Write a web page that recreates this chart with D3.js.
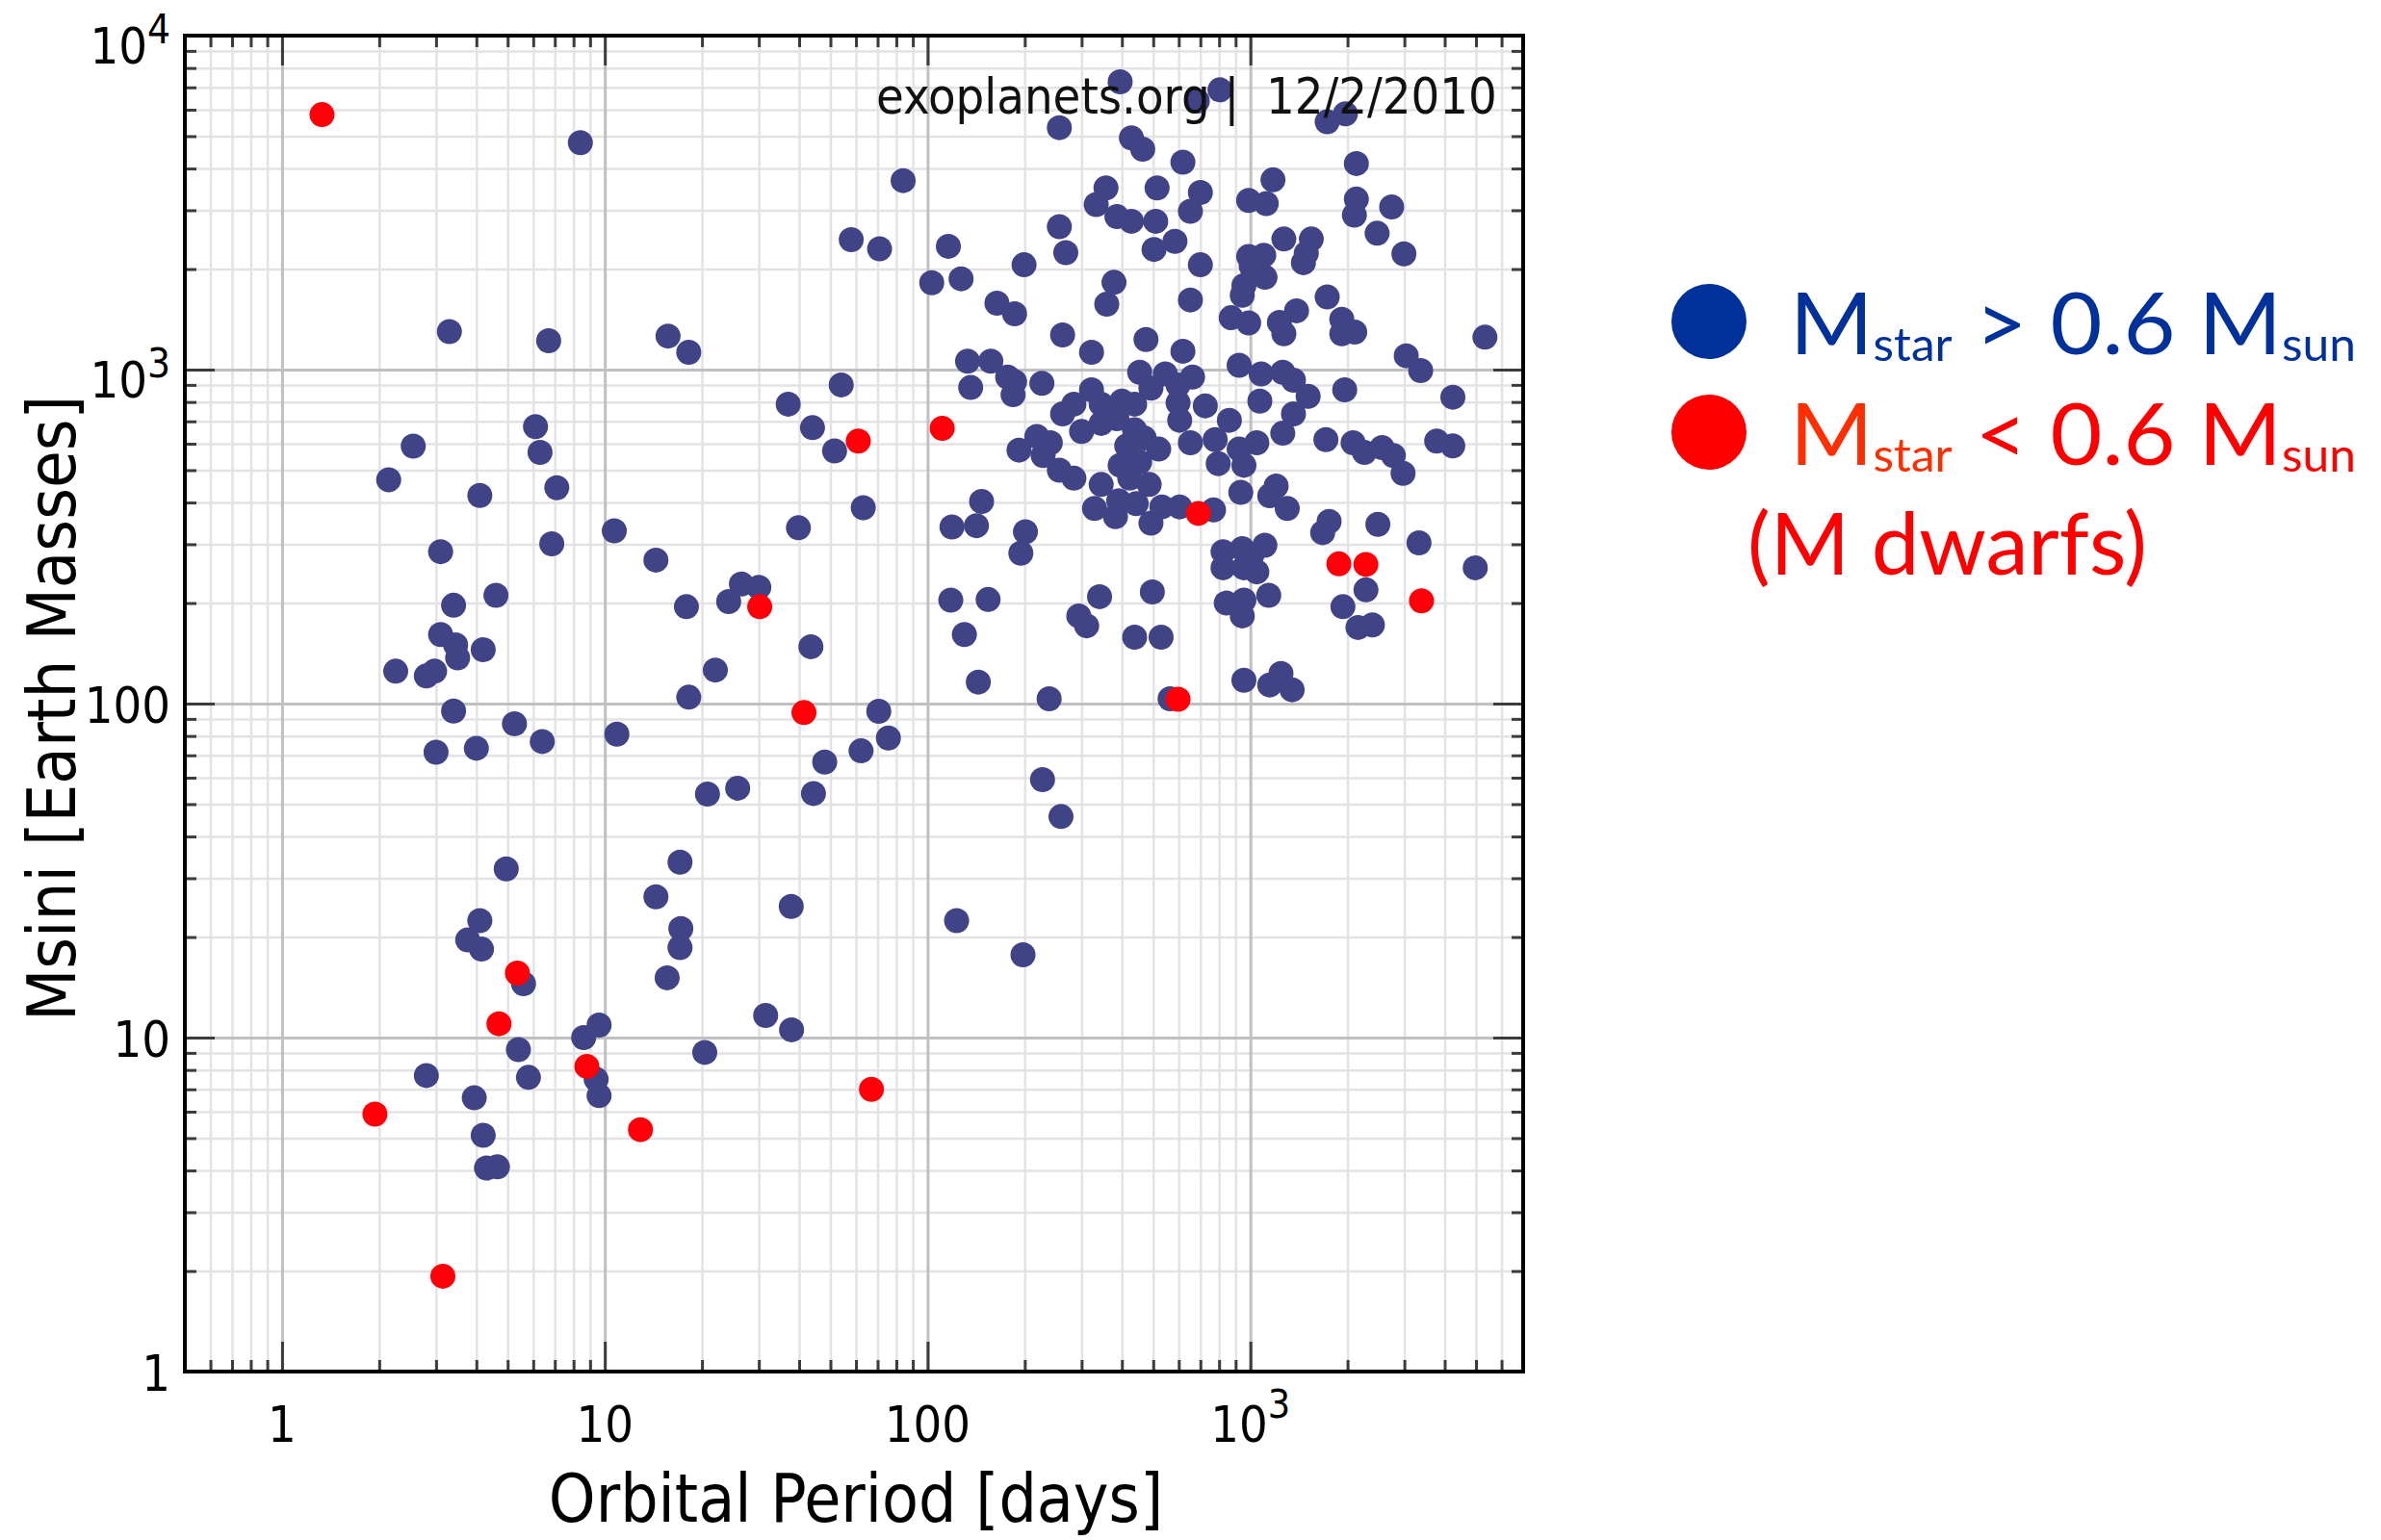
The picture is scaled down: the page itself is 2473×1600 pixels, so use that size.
<!DOCTYPE html>
<html>
<head>
<meta charset="utf-8">
<script src="https://cdn.jsdelivr.net/npm/d3@7"></script>
<style>
  html, body { margin: 0; padding: 0; background: #fff; }
  svg { display: block; }
</style>
</head>
<body>
<svg id="chart" width="2473" height="1600"></svg>
<script>
// Orbital period [days] and minimum mass [Earth masses] of planets
// orbiting stars heavier than 0.6 solar masses.
const heavyHostPeriod = [
  8.4, 3.3, 6.7, 6.1, 6.3, 2.55, 2.14, 7.1, 4.1, 10.7, 6.85, 3.1, 4.6, 3.4, 3.1, 3.45, 3.5, 4.2, 2.25, 2.8,
  2.97, 3.4, 5.25, 6.4, 10.9, 3.0, 4.0, 4.95, 4.1, 3.76, 4.15, 5.6, 5.4, 5.8, 8.6, 9.6, 9.4, 9.6, 2.8, 3.94,
  4.2, 4.3, 4.65,
  14.4, 17.9, 24.2, 26.5, 30.0, 39.8, 63.2, 43.5, 22.0, 18.2, 70.6, 75.6, 62.2, 48.0, 44.3, 20.8, 25.8, 17.1, 14.4, 37.8,
  119, 141.7, 147, 201, 194.5, 118, 154, 130, 143.6, 238, 227, 259, 123, 17.2, 17.1, 15.6, 31.5, 37.9, 20.4, 197.5,
  256, 84, 58, 71, 116, 256, 268, 199, 103, 127, 164, 186, 262, 15.7, 18.2, 133, 157, 136, 177, 186,
  184, 226, 262, 54, 37, 44, 51.5, 192, 218, 240, 228, 256, 284,
  395, 805, 685, 1730, 1970, 428, 464, 618, 2130, 357, 514, 700, 1175, 333, 386, 428, 509, 652, 988, 1120,
  2130, 2100, 2740, 2470, 2990, 503, 584, 1270, 1545, 1490, 1460, 700, 988, 1100, 1006, 1110, 955, 944, 378, 359,
  652, 1730, 1920, 2105, 1920, 5330, 872, 988, 1230, 1390, 1270, 475, 322, 618, 3040, 3370, 923, 1080, 1260, 1360,
  1510, 1360, 1260, 1070, 1960, 4240, 454, 545, 597, 662, 492, 322, 284, 300, 345, 400, 438, 345, 386, 438,
  469, 604, 725, 861, 597, 414, 520, 652, 778, 923, 1047, 795, 955, 395, 454, 1714, 2081, 2256, 2559, 2773,
  2972, 3778, 4236,
  345, 423, 486, 329, 382, 443, 492, 532, 391, 604, 769, 934, 1202, 1148, 1301, 1754, 1675, 2483, 3330, 4974,
  2281, 1935, 2155, 2388, 823, 944, 1109, 823, 955, 1047, 1012, 842, 955, 944, 1140, 341, 497, 294, 311, 438,
  529, 955, 1148, 1244, 1347, 564
];
const heavyHostMass = [
  4780, 1300, 1220, 675, 565, 590, 468, 443, 420, 329, 301, 285, 211, 197, 161, 150, 137, 145, 125, 121,
  125, 95, 87, 77, 81, 71.5, 73.5, 32, 22.4, 19.6, 18.4, 14.5, 9.2, 7.6, 10, 10.9, 7.5, 6.7, 7.7, 6.6,
  5.1, 4.07, 4.1,
  269, 195, 202, 228, 223, 336, 386, 148, 126, 104.5, 94.8, 78.9, 72.2, 66.8, 53.8, 53.6, 55.8, 33.5, 26.4, 24.7,
  338, 341, 403, 327, 282, 204, 205, 161, 116, 103.4, 59.2, 45.9, 22.4, 21.2, 18.6, 15.1, 11.65, 10.55, 9.03, 17.7,
  5300, 3680, 2450, 2300, 2340, 2680, 2240, 2060, 1820, 1870, 1580, 1470, 1270, 1260, 1127, 1060, 1060, 884, 950, 920,
  841, 910, 737, 900, 788, 670, 571, 574, 631, 604, 553, 500, 473,
  7270, 6880, 6370, 5520, 5830, 4940, 4570, 4180, 4140, 3500, 3500, 3390, 3700, 3120, 2870, 2780, 2780, 2980, 3210, 3140,
  3240, 2900, 3070, 2560, 2220, 2290, 2420, 2460, 2460, 2230, 2090, 2060, 2180, 2200, 2040, 1890, 1785, 1670, 1825, 1570,
  1616, 1650, 1415, 1295, 1280, 1250, 1430, 1380, 1384, 1500, 1280, 1230, 1127, 1135, 1100, 993, 1030, 971, 982, 930,
  832, 737, 645, 805, 870, 827, 982, 971, 899, 950, 880, 870, 788, 653, 788, 805, 788, 690, 713, 660,
  624, 705, 779, 705, 796, 591, 578, 604, 617, 578, 604, 523, 517, 517, 529, 617, 604, 565, 584, 553,
  489, 611, 591,
  453, 473, 453, 384, 363, 397, 347, 388, 405, 388, 380, 429, 448, 419, 384, 351, 325, 344, 303, 255,
  219, 195, 169, 172, 285, 291, 298, 255, 255, 248, 279, 200, 204, 183, 211, 209, 216, 183, 171, 158,
  158, 117.5, 113.7, 123, 110, 103.4
];

// Planets orbiting M dwarfs (stars below 0.6 solar masses).
const mDwarfPeriod = [1.33, 5.36, 4.7, 8.8, 12.9, 1.94, 3.15, 61, 111, 30.2, 41.4, 67, 690, 1880, 2280, 3390, 597];
const mDwarfMass   = [5800, 15.6, 11.0, 8.2, 5.3, 5.9, 1.93, 611, 667, 195, 94, 7.0, 371, 262, 261, 203, 103];

// Labelled decades on each axis (base and superscript exponent).
const xTickValues = [1, 10, 100, 1000];
const xTickBase   = ["1", "10", "100", "10"];
const xTickExp    = ["", "", "", "3"];
const yTickValues = [1, 10, 100, 1000, 10000];
const yTickBase   = ["1", "10", "100", "10", "10"];
const yTickExp    = ["", "", "", "3", "4"];

const svg = d3.select("#chart");
const plot = { left: 192, right: 1582, top: 37, bottom: 1425 };
const plotW = plot.right - plot.left;
const plotH = plot.bottom - plot.top;

const x = d3.scaleLog().domain([0.5, 7000]).range([plot.left, plot.right]);
const y = d3.scaleLog().domain([1, 10000]).range([plot.bottom, plot.top]);

const isDecade = v => Math.abs(Math.log10(v) - Math.round(Math.log10(v))) < 1e-9;
const xAll = x.ticks();
const yAll = y.ticks();
const xMinor = xAll.filter(v => !isDecade(v));
const xMajor = xAll.filter(isDecade);
const yMinor = yAll.filter(v => !isDecade(v));
const yMajor = yAll.filter(isDecade);

const labelFont = "'DejaVu Sans Condensed', 'DejaVu Sans', sans-serif";

function styleAxis(sel, color, width) {
  sel.select(".domain").remove();
  sel.selectAll(".tick line").attr("stroke", color).attr("stroke-width", width);
  sel.selectAll(".tick text").remove();
}

// --- grid ---
const grid = svg.append("g");
function gridLines(vals, color, width) {
  grid.append("g").attr("transform", `translate(0,${plot.bottom})`)
    .call(d3.axisBottom(x).tickValues(vals.x).tickSize(-plotH).tickFormat(""))
    .call(s => styleAxis(s, color, width));
  grid.append("g").attr("transform", `translate(${plot.left},0)`)
    .call(d3.axisLeft(y).tickValues(vals.y).tickSize(-plotW).tickFormat(""))
    .call(s => styleAxis(s, color, width));
}
gridLines({ x: xMinor, y: yMinor }, "#e3e3e3", 2.5);
gridLines({ x: xMajor, y: yMajor }, "#c0c0c0", 3);

// --- inward ticks on all four sides ---
const ticks = svg.append("g");
const sides = [
  [() => d3.axisBottom(x), `translate(0,${plot.bottom})`, xMinor, xMajor],
  [() => d3.axisTop(x), `translate(0,${plot.top})`, xMinor, xMajor],
  [() => d3.axisLeft(y), `translate(${plot.left},0)`, yMinor, yMajor],
  [() => d3.axisRight(y), `translate(${plot.right},0)`, yMinor, yMajor]
];
sides.forEach(([makeAxis, tr, mn, mj]) => {
  ticks.append("g").attr("transform", tr)
    .call(makeAxis().tickValues(mn).tickSize(-12).tickFormat(""))
    .call(s => styleAxis(s, "#3c3c3c", 3));
  ticks.append("g").attr("transform", tr)
    .call(makeAxis().tickValues(mj).tickSize(-31).tickFormat(""))
    .call(s => styleAxis(s, "#3c3c3c", 3));
});

// --- points ---
const heavy = heavyHostPeriod.map((p, i) => ({ p, m: heavyHostMass[i] }));
const dwarf = mDwarfPeriod.map((p, i) => ({ p, m: mDwarfMass[i] }));

svg.append("g").selectAll("circle").data(heavy).join("circle")
  .attr("cx", d => x(d.p)).attr("cy", d => y(d.m)).attr("r", 13)
  .attr("fill", "#414387");
svg.append("g").selectAll("circle").data(dwarf).join("circle")
  .attr("cx", d => x(d.p)).attr("cy", d => y(d.m)).attr("r", 13)
  .attr("fill", "#ff0008");

// --- frame ---
svg.append("rect")
  .attr("x", plot.left).attr("y", plot.top)
  .attr("width", plotW).attr("height", plotH)
  .attr("fill", "none").attr("stroke", "#000").attr("stroke-width", 4);

// --- tick labels ---
const xl = svg.append("g").attr("font-family", labelFont).attr("font-size", 52)
  .attr("font-stretch", "condensed").attr("fill", "#000");
xTickValues.forEach((v, i) => {
  const t = xl.append("text").attr("x", x(v)).attr("y", 1498).attr("text-anchor", "middle");
  t.append("tspan").text(xTickBase[i]);
  if (xTickExp[i]) t.append("tspan").attr("font-size", 41).attr("dy", -25).text(xTickExp[i]);
});

const yl = svg.append("g").attr("font-family", labelFont).attr("font-size", 52)
  .attr("font-stretch", "condensed").attr("fill", "#000");
yTickValues.forEach((v, i) => {
  const hasExp = !!yTickExp[i];
  const t = yl.append("text").attr("x", 177).attr("y", y(v) + (hasExp ? 29 : 20)).attr("text-anchor", "end");
  t.append("tspan").text(yTickBase[i]);
  if (hasExp) t.append("tspan").attr("font-size", 42).attr("dy", -21).text(yTickExp[i]);
});

// --- axis titles ---
svg.append("text")
  .attr("x", 889).attr("y", 1581).attr("text-anchor", "middle")
  .attr("font-family", labelFont).attr("font-stretch", "condensed").attr("font-size", 69)
  .text("Orbital Period [days]");
svg.append("text")
  .attr("transform", "translate(78,736) rotate(-90)").attr("text-anchor", "middle")
  .attr("font-family", labelFont).attr("font-stretch", "condensed").attr("font-size", 70)
  .text("Msini [Earth Masses]");

// --- source / date stamp ---
const stamp = svg.append("g").attr("font-family", labelFont).attr("font-stretch", "condensed")
  .attr("font-size", 52).attr("fill", "#111");
stamp.append("text").attr("x", 910).attr("y", 118).text("exoplanets.org |");
stamp.append("text").attr("x", 1315).attr("y", 118).text("12/2/2010");

// --- legend ---
const legendFont = "Lato, 'Open Sans', sans-serif";
const legend = svg.append("g").attr("font-family", legendFont);
const blueInk = "#00309a";
legend.append("circle").attr("cx", 1775).attr("cy", 334).attr("r", 39).attr("fill", blueInk);
legend.append("circle").attr("cx", 1775).attr("cy", 449).attr("r", 39).attr("fill", "#ff0000");

// One text line per legend entry: M_star <relation> 0.6 M_sun
function legendLine(py, relation, starColor, restColor) {
  const t = legend.append("text").attr("x", 1859).attr("y", py).attr("font-size", 90)
    .attr("textLength", 588).attr("lengthAdjust", "spacingAndGlyphs");
  t.append("tspan").attr("fill", starColor).text("M");
  t.append("tspan").attr("fill", starColor).attr("font-size", 48).attr("dy", 7).text("star");
  t.append("tspan").attr("fill", restColor).attr("dy", -7).text(` ${relation} 0.6 M`);
  t.append("tspan").attr("fill", restColor).attr("font-size", 48).attr("dy", 7).text("sun");
}
legendLine(368, ">", blueInk, blueInk);
legendLine(483, "<", "#ff2e00", "#ff0000");

legend.append("text").attr("x", 1815).attr("y", 597).attr("font-size", 90)
  .attr("fill", "#ff0000").attr("textLength", 415).attr("lengthAdjust", "spacingAndGlyphs")
  .text("(M dwarfs)");
</script>
</body>
</html>
